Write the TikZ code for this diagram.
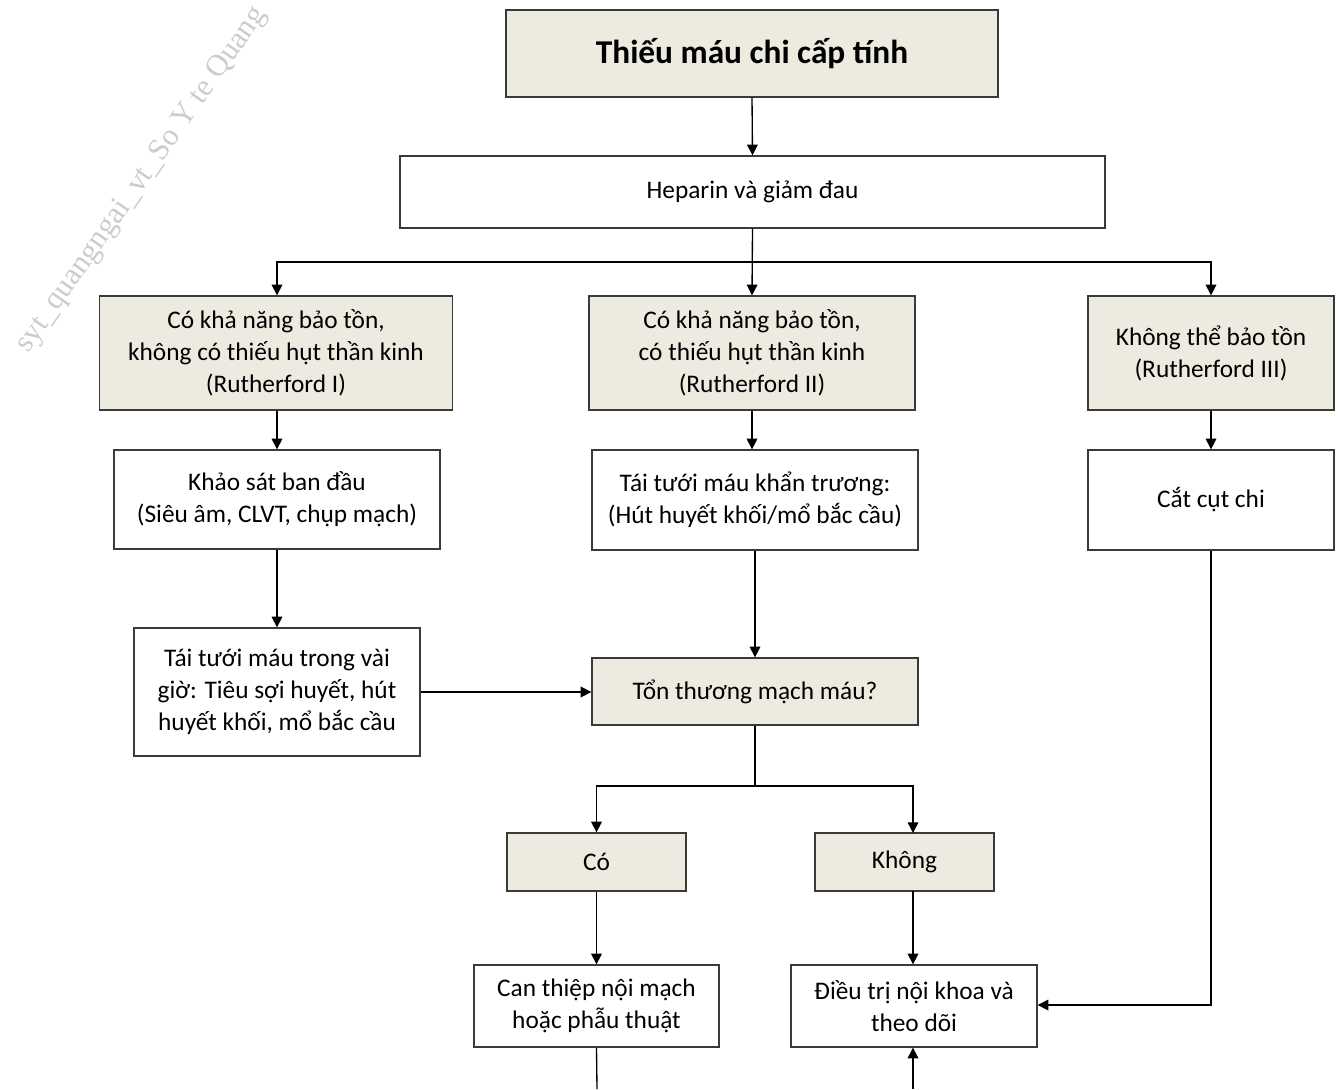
\documentclass[tikz,border=0pt]{standalone}
\usepackage{fontspec}
\setmainfont{Carlito}
\newfontfamily\wmfont{Liberation Serif}
\usetikzlibrary{arrows.meta,calc}
\definecolor{beige}{HTML}{EDEAE0}
\definecolor{bord}{HTML}{3A3A3A}
\definecolor{wmgray}{HTML}{CCCCCC}
\begin{document}
\begin{tikzpicture}[x=0.75pt,y=-0.75pt,
  box/.style={draw=bord,line width=1pt,rectangle,align=center,inner sep=2pt,
    font=\fontsize{19}{24}\selectfont},
  fbox/.style={box,fill=beige},
  wbox/.style={box,fill=white},
  conn/.style={draw=black,line width=1pt},
  arr/.style={conn,-{Triangle[length=8pt,width=8pt]}}]
\useasboundingbox (0,0) rectangle (1341,1089);
% watermark
\node[text=wmgray,rotate=55,font=\wmfont\fontsize{23}{23}\selectfont,inner sep=0] (wm) at (142,180) {syt\_quangngai\_vt\_So Y te Quang};
% boxes
\node[fbox,minimum width=369pt,minimum height=65.25pt,font=\bfseries\fontsize{25}{30}\selectfont] (t) at (752,53.5) {Thiếu máu chi cấp tính};
\node[wbox,minimum width=528.75pt,minimum height=54pt] (hep) at (752.5,192) {Heparin và giảm đau};
\node[fbox,minimum width=264.75pt,minimum height=85.5pt] (A) at (276,353) {Có khả năng bảo tồn,\\không có thiếu hụt thần kinh\\(Rutherford I)};
\node[fbox,minimum width=244.5pt,minimum height=85.5pt] (B) at (752,353) {Có khả năng bảo tồn,\\có thiếu hụt thần kinh\\(Rutherford II)};
\node[fbox,minimum width=184.5pt,minimum height=85.5pt] (C) at (1211,353) {Không thể bảo tồn\\(Rutherford III)};
\node[wbox,minimum width=244.5pt,minimum height=74.25pt] (D) at (277,499.5) {Khảo sát ban đầu\\(Siêu âm, CLVT, chụp mạch)};
\node[wbox,minimum width=244.5pt,minimum height=75pt] (E) at (755,500) {Tái tưới máu khẩn trương:\\(Hút huyết khối/mổ bắc cầu)};
\node[wbox,minimum width=184.5pt,minimum height=75pt] (F) at (1211,500) {Cắt cụt chi};
\node[wbox,minimum width=214.5pt,minimum height=96pt] (G) at (277,692) {Tái tưới máu trong vài\\giờ: Tiêu sợi huyết, hút\\huyết khối, mổ bắc cầu};
\node[fbox,minimum width=244.5pt,minimum height=50.25pt] (H) at (755,691.5) {Tổn thương mạch máu?};
\node[fbox,minimum width=134.25pt,minimum height=43.5pt] (I) at (596.5,862) {Có};
\node[fbox,minimum width=134.25pt,minimum height=43.5pt] (J) at (904.5,862) {Không};
\node[wbox,minimum width=183.75pt,minimum height=61.5pt] (K) at (596.5,1006) {Can thiệp nội mạch\\hoặc phẫu thuật};
\node[wbox,minimum width=184.5pt,minimum height=61.5pt] (L) at (914,1006) {Điều trị nội khoa và\\theo dõi};
% connectors
\coordinate (bus) at (752,262);
\coordinate (split) at (755,786);
\coordinate (Fturn) at (1211,1005);
\coordinate (Kend) at (597,1089);
\coordinate (Lstart) at (913,1089);
\coordinate (Jin) at (913,833);
\coordinate (Jout) at (913,891);
\draw[arr] (t.south) -- (hep.north);
\draw[arr] (hep.south) -- (B.north);
\draw[arr] (bus) -| ([xshift=0.75pt]A.north);
\draw[arr] (bus) -| (C.north);
\draw[arr] ([xshift=0.75pt]A.south) -- (D.north);
\draw[arr] (B.south) -- (B.south |- E.north);
\draw[arr] (C.south) -- (F.north);
\draw[arr] (D.south) -- (G.north);
\draw[arr] (E.south) -- (H.north);
\draw[arr] (G.east) -- (G.east -| H.west);
\draw[conn] (H.south) -- (split);
\draw[arr] (split) -| (I.north);
\draw[arr] (split) -| (Jin);
\draw[arr] (I.south) -- (K.north);
\draw[arr] (Jout) -- (Jout |- L.north);
\draw[arr] (F.south) -- (Fturn) -- (Fturn -| L.east);
\draw[conn] (K.south) -- (Kend);
\draw[arr] (Lstart) -- (Lstart |- L.south);
\end{tikzpicture}
\end{document}
